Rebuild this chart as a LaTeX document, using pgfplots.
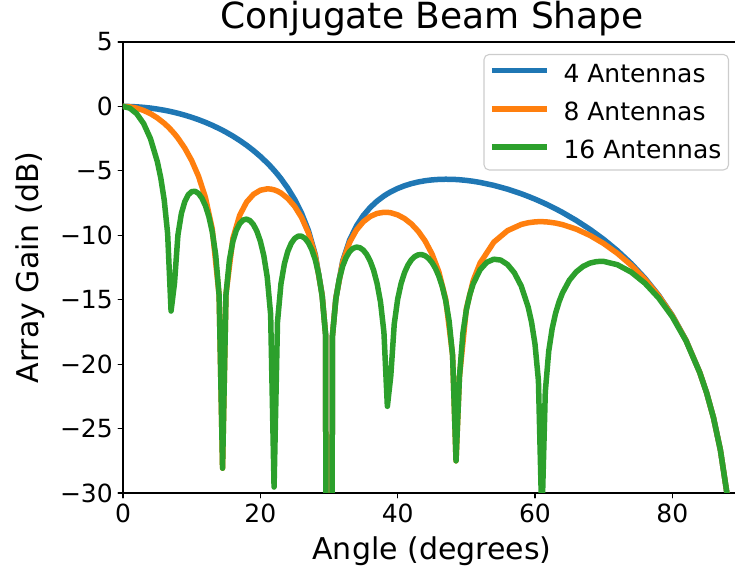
\documentclass[border=0pt]{standalone}
\usepackage{fontspec}
\setmainfont{DejaVu Sans}
\usepackage{pgfplots}
\usepackage{pgfplotstable}
\pgfplotsset{compat=1.18}

\definecolor{tabblue}{HTML}{1F77B4}
\definecolor{taborange}{HTML}{FF7F0E}
\definecolor{tabgreen}{HTML}{2CA02C}

% array gain in dB for 4 and 8 antennas, read per angle
\pgfplotstableread{
theta b4 b8
0 0 0
1 -0.008 -0.035
2 -0.033 -0.138
3 -0.074 -0.313
4 -0.131 -0.562
5 -0.206 -0.893
6 -0.297 -1.310
6.5 -0.350 -1.556
7 -0.407 -1.828
7.5 -0.468 -2.129
8 -0.534 -2.462
9 -0.680 -3.240
10 -0.845 -4.203
11 -1.030 -5.426
12 -1.237 -7.064
13 -1.466 -9.514
14 -1.719 -14.666
14.5 -1.855 -28.08
15 -1.998 -14.564
16 -2.305 -10.254
17 -2.643 -8.442
18 -3.015 -7.424
19 -3.426 -6.826
20 -3.882 -6.506
21 -4.389 -6.399
21.5 -4.665 -6.415
22 -4.958 -6.474
22.5 -5.271 -6.576
23 -5.604 -6.720
24 -6.348 -7.141
25 -7.222 -7.757
26 -8.281 -8.615
27 -9.628 -9.812
28 -11.495 -11.575
29 -14.619 -14.638
29.5 -17.689 -17.694
30 -160 -160
30.5 -17.814 -17.818
31 -14.868 -14.888
32 -11.995 -12.072
33 -10.378 -10.551
34 -9.280 -9.588
35 -8.470 -8.952
36 -7.845 -8.542
37 -7.350 -8.307
38 -6.951 -8.216
38.5 -6.782 -8.220
39 -6.629 -8.255
40 -6.368 -8.418
41 -6.158 -8.703
42 -5.992 -9.121
43 -5.864 -9.690
44 -5.769 -10.444
45 -5.703 -11.450
46 -5.665 -12.845
47 -5.652 -14.974
48 -5.661 -19.321
48.5 -5.674 -27.508
49 -5.692 -20.981
50 -5.743 -15.715
51 -5.812 -13.515
52 -5.900 -12.161
54 -6.128 -10.536
56 -6.421 -9.641
58 -6.778 -9.160
59 -6.980 -9.030
60 -7.197 -8.962
60.5 -7.312 -8.948
61 -7.431 -8.946
61.5 -7.553 -8.957
62 -7.680 -8.979
63 -7.946 -9.055
64 -8.228 -9.173
66 -8.847 -9.521
68 -9.541 -10.012
70 -10.320 -10.640
72 -11.198 -11.406
74 -12.192 -12.322
76 -13.331 -13.407
78 -14.655 -14.696
80 -16.228 -16.248
82 -18.159 -18.167
84 -20.653 -20.656
85 -22.236 -22.238
86 -24.172 -24.173
87 -26.672 -26.672
88 -30.19 -30.19
88.5 -32.69 -32.69
89 -36.2 -36.2
89.5 -42.2 -42.2
}\gainlow

% 16 antennas, sampled more finely (narrow lobes)
\pgfplotstableread{
theta b16
0 0
1 -0.140
2 -0.570
3 -1.328
4 -2.502
5 -4.285
5.5 -5.548
6 -7.254
6.5 -9.862
7 -15.880
7.5 -13.716
8 -9.978
8.5 -8.317
9 -7.387
9.5 -6.861
10 -6.614
10.5 -6.587
11 -6.758
11.5 -7.124
12 -7.702
12.5 -8.539
13 -9.733
13.5 -11.521
14 -14.689
14.5 -28.08
15 -14.591
15.5 -11.913
16 -10.483
16.5 -9.614
17 -9.089
17.5 -8.815
18 -8.747
18.5 -8.868
19 -9.176
19.5 -9.692
20 -10.456
20.5 -11.563
21 -13.229
21.5 -16.137
22 -29.54
22.5 -16.735
23 -13.789
23.5 -12.224
24 -11.249
24.5 -10.624
25 -10.249
25.5 -10.073
26 -10.073
26.5 -10.241
27 -10.583
27.5 -11.121
28 -11.903
28.5 -13.026
29 -14.718
29.5 -17.713
30 -160
30.5 -17.838
31 -14.966
31.5 -13.394
32 -12.386
32.5 -11.713
33 -11.273
33.5 -11.018
34 -10.919
34.5 -10.966
35 -11.154
35.5 -11.493
36 -12.002
36.5 -12.720
37 -13.734
37.5 -15.177
38 -17.531
38.5 -23.276
39 -20.910
39.5 -16.899
40 -14.960
40.5 -13.739
41 -12.900
41.5 -12.311
42 -11.906
42.5 -11.649
43 -11.517
43.5 -11.500
44 -11.592
44.5 -11.794
45 -12.114
45.5 -12.566
46 -13.175
46.5 -13.989
47 -15.094
47.5 -16.686
48 -19.337
48.5 -27.508
49 -20.988
49.5 -17.600
50 -15.804
50.5 -14.620
51 -13.772
52 -12.676
53 -12.089
54 -11.859
55 -11.925
56 -12.269
57 -12.917
58 -13.945
59 -15.563
59.5 -16.756
60 -18.449
60.5 -21.289
61 -32.16
61.5 -22.149
62 -18.992
62.5 -17.240
63 -16.050
63.5 -15.167
64 -14.481
65 -13.493
66 -12.841
67 -12.416
68 -12.160
69 -12.039
70 -12.028
72 -12.286
74 -12.859
76 -13.717
78 -14.862
80 -16.327
82 -18.200
84 -20.666
85 -22.242
86 -24.175
87 -26.672
88 -30.19
88.5 -32.69
89 -36.2
89.5 -42.2
}\gainhigh

\begin{document}
\begin{tikzpicture}
\begin{axis}[
    name=ax,
    width=618pt, height=451pt, scale only axis,
    xmin=0, xmax=90,
    ymin=-30, ymax=5,
    xtick={0,20,40,60,80},
    xticklabels={0,20,40,60,80},
    ytick={-30,-25,-20,-15,-10,-5,0,5},
    yticklabels={−30,−25,−20,−15,−10,−5,0,5},
    tick align=outside,
    tick pos=left,
    major tick length=4.9pt,
    axis line style={line width=1.1pt},
    every tick/.style={black, line width=1.1pt},
    ticklabel style={font=\fontsize{25}{30}\selectfont, inner sep=0pt},
    xticklabel style={anchor=base, yshift=-25.1pt},
    yticklabel style={anchor=east, xshift=-5.1pt},
    title={Conjugate Beam Shape},
    every axis title shift=0pt,
    title style={at={(0.5,1.0299)}, anchor=base, font=\fontsize{36}{42}\selectfont},
    xlabel={Angle (degrees)},
    ylabel={Array Gain (dB)},
    xlabel style={at={(0.5,-0.1486)}, anchor=base, font=\fontsize{30}{36}\selectfont},
    ylabel style={at={(-0.1375,0.5)}, anchor=base, font=\fontsize{30}{36}\selectfont},
    legend style={
        at={(0.9806,0.9734)}, anchor=north east,
        draw=black!20, line width=1.1pt, rounded corners=5pt,
        fill=white, fill opacity=0.8, draw opacity=1, text opacity=1,
        font=\fontsize{25}{30}\selectfont,
        inner xsep=5pt, inner ysep=7.5pt,
        row sep=14.3pt,
    },
    legend cell align=left,
    legend image code/.code={
        \draw[#1, line cap=butt] (0pt,0.33em) -- (55pt,0.33em);
        \path (67pt,0.33em);
    },
    line join=round, line cap=round,
]
\addplot[tabblue, line width=5.5pt] table[x=theta, y=b4] {\gainlow};
\addlegendentry{4 Antennas}
\addplot[taborange, line width=5.5pt] table[x=theta, y=b8] {\gainlow};
\addlegendentry{8 Antennas}
\addplot[tabgreen, line width=5.5pt] table[x=theta, y=b16] {\gainhigh};
\addlegendentry{16 Antennas}
\end{axis}
\pgfresetboundingbox
\path[use as bounding box] ([xshift=-123pt,yshift=-78pt]ax.south west) rectangle ([xshift=-6pt,yshift=42pt]ax.north east);
\end{tikzpicture}
\end{document}
